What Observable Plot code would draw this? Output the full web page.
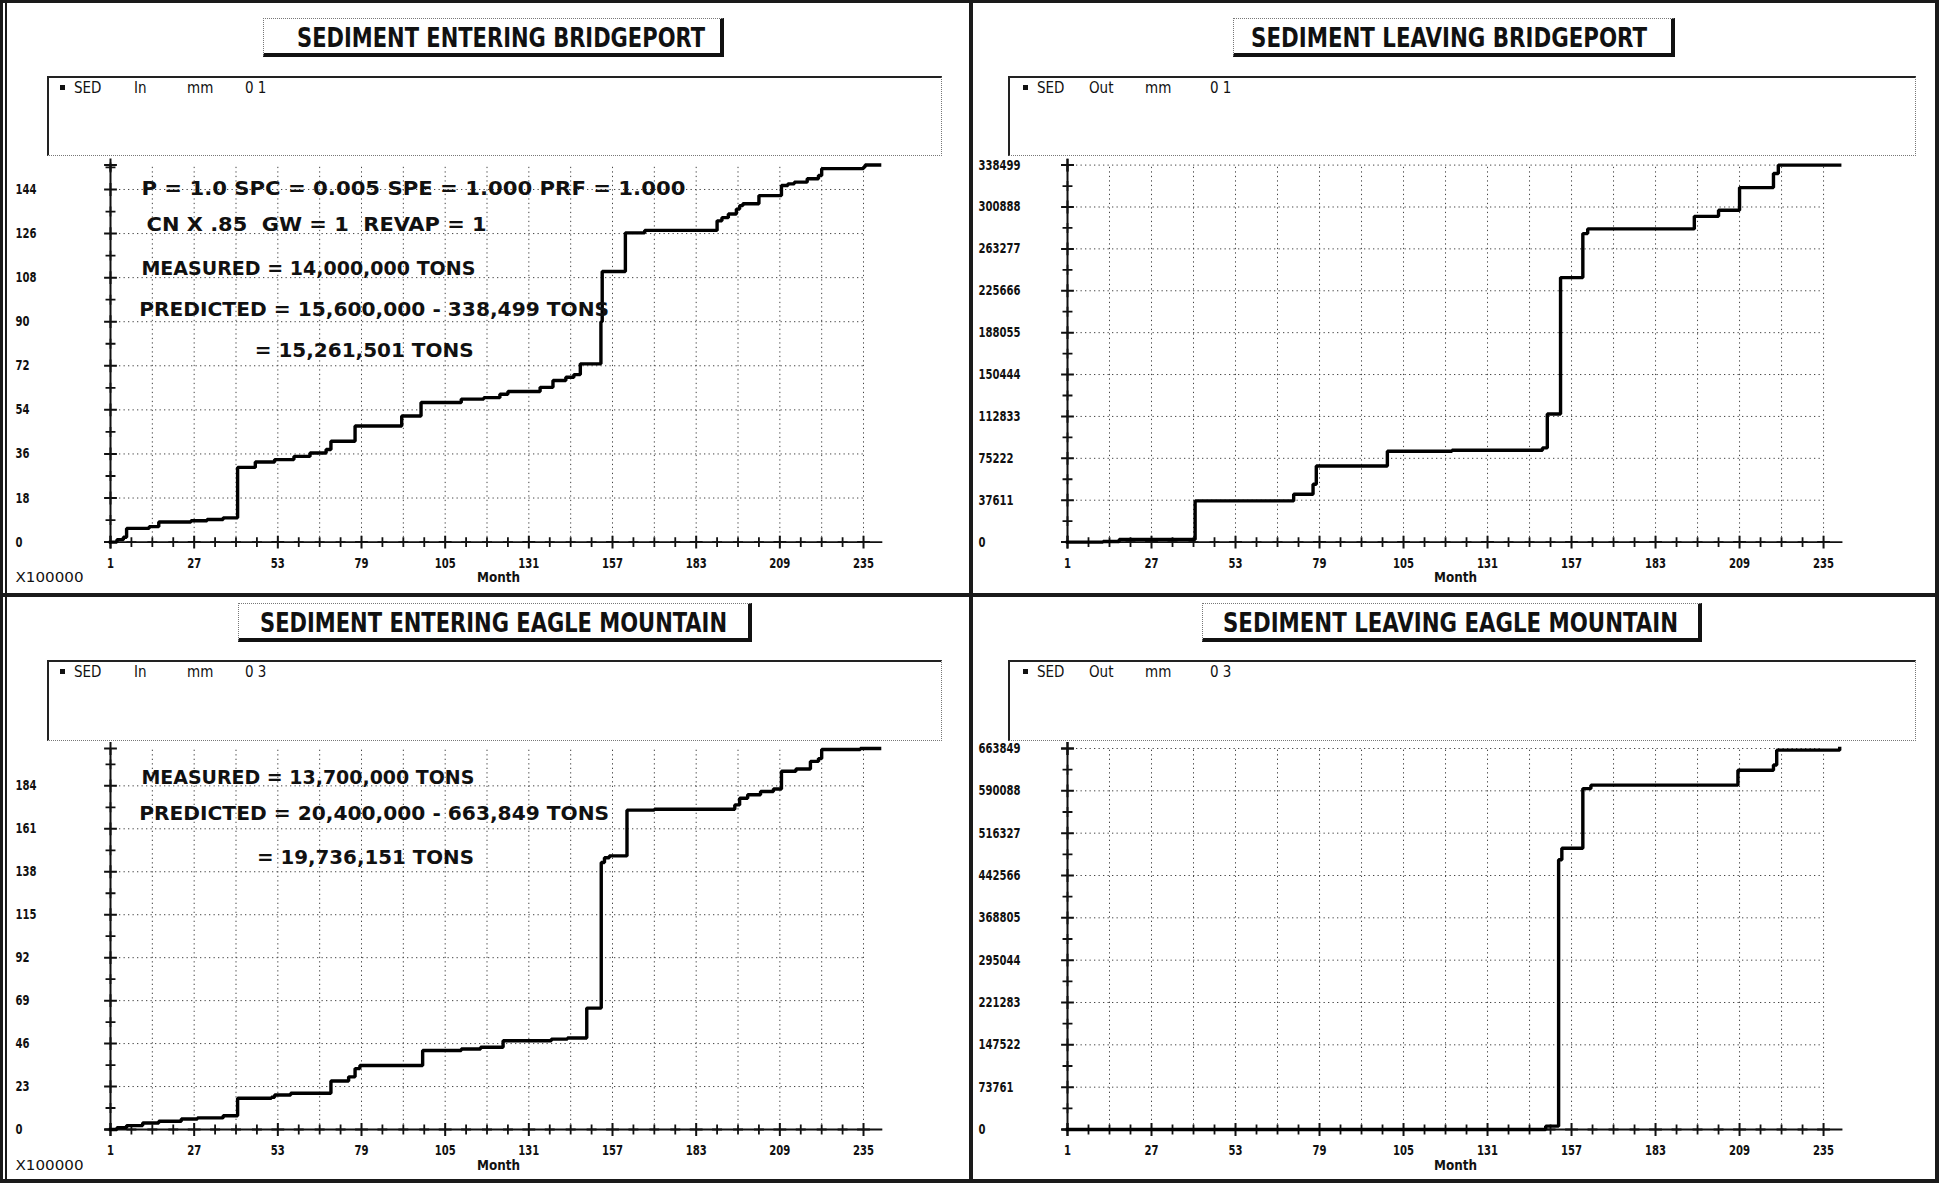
<!DOCTYPE html>
<html>
<head>
<meta charset="utf-8">
<script src="https://cdn.jsdelivr.net/npm/d3@7"></script>
<script src="https://cdn.jsdelivr.net/npm/@observablehq/plot@0.6"></script>
<style>
html,body{margin:0;padding:0;background:#fff;}
#fig{position:relative;width:1939px;height:1183px;overflow:hidden;background:#fff;font-family:"DejaVu Sans Condensed","DejaVu Sans",sans-serif;font-stretch:condensed;color:#111;}
.rule{position:absolute;background:#1a1a1a;}
.titlebox{position:absolute;box-sizing:border-box;border-top:1px dotted #777;border-left:1px dotted #777;border-right:4px solid #111;border-bottom:4px solid #111;background:#fff;}
.legendbox{position:absolute;box-sizing:border-box;border-top:2px solid #222;border-left:2px solid #222;border-right:1px dotted #777;border-bottom:1px dotted #777;}
.legendbox span{position:absolute;top:1px;font-size:15px;line-height:18px;white-space:pre;}
.legendbox .sq{position:absolute;top:7px;width:5px;height:5px;background:#111;}
.panel{position:absolute;}
</style>
</head>
<body>
<div id="fig"></div>
<script>
// ---------------- data ----------------
// x axis tick labels (month)
const xTickLabels = [1, 27, 53, 79, 105, 131, 157, 183, 209, 235];

// y tick labels per panel
const yTicksEnterBridgeport = [0, 18, 36, 54, 72, 90, 108, 126, 144];
const yTicksLeaveBridgeport = [0, 37611, 75222, 112833, 150444, 188055, 225666, 263277, 300888, 338499];
const yTicksEnterEagle = [0, 23, 46, 69, 92, 115, 138, 161, 184];
const yTicksLeaveEagle = [0, 73761, 147522, 221283, 295044, 368805, 442566, 516327, 590088, 663849];

// cumulative sediment, [month, value]  (entering: x100000 tons, leaving: tons)
const enterBridgeport = [[1,0],[3,1],[5,2],[6,5.6],[13,6.3],[16,8.2],[26,8.7],[31,9.2],[36,9.9],[40.5,30.5],[46,32.7],[52,33.7],[58,35],[63,36.4],[68,37.8],[69.5,41.2],[77,47.4],[91.5,51.5],[97.5,57],[110,58.4],[117,59],[122,60.4],[124.5,61.5],[134.5,63.2],[138.5,66],[142.5,67.3],[145,68.4],[147,72.8],[153.4,90],[153.8,110.5],[161,126.3],[167,127.3],[189.5,131.2],[191,132.5],[193,134],[195.5,136],[196.5,137.4],[197.5,138.2],[202.5,141.5],[209.5,145.6],[211.5,146.3],[213.5,147],[217.5,148.4],[221,149.7],[222,152.5],[235,153.2],[235.5,154],[240,154]];
const leaveBridgeport = [[1,0],[12,600],[17,2400],[40.5,37000],[71,43000],[77,52000],[78,68300],[100,81600],[120,82500],[148,84600],[149.5,115000],[153.6,237500],[160.5,277000],[162,281200],[195,292500],[202.5,297900],[209,318300],[219.5,331000],[221,338499],[240,338499]];
const enterEagle = [[1,0],[3,1],[6,2.1],[11,3.5],[16,4.4],[23,5.6],[28,6.2],[36,7.4],[40.5,16.7],[51,17.3],[52,18.5],[57,19.4],[69.5,26],[75,28.2],[77,32.6],[78.5,34.3],[98,42.3],[110,43.1],[116,44],[123,47.5],[138,48.4],[143,49],[149,65],[153.5,143],[154.5,145.5],[156,146.5],[161.5,171],[170,171.5],[195,173.8],[196.5,177.4],[199,179.2],[203,181],[207,182.3],[209.5,191.8],[214,193],[218.5,197.1],[221,198.6],[222,203.5],[234,204],[240,204]];
const leaveEagle = [[1,0],[149,5800],[153,470000],[154,490000],[160.5,594000],[163,600000],[208.5,626000],[219.5,635000],[220.5,661000],[240,663849]];

// panel titles, legend entries and text notes
const titles = ["SEDIMENT ENTERING BRIDGEPORT", "SEDIMENT LEAVING BRIDGEPORT", "SEDIMENT ENTERING EAGLE MOUNTAIN", "SEDIMENT LEAVING EAGLE MOUNTAIN"];
const legendEntries = [["SED", "In", "mm", "0 1"], ["SED", "Out", "mm", "0 1"], ["SED", "In", "mm", "0 3"], ["SED", "Out", "mm", "0 3"]];
const notesBridgeport = [
  {label: "P = 1.0 SPC = 0.005 SPE = 1.000 PRF = 1.000", month: 10.6, value: 144.2},
  {label: "CN X .85  GW = 1  REVAP = 1", month: 12.2, value: 129.7},
  {label: "MEASURED = 14,000,000 TONS", month: 10.6, value: 111.7},
  {label: "PREDICTED = 15,600,000 - 338,499 TONS", month: 9.9, value: 95},
  {label: "= 15,261,501 TONS", month: 45.8, value: 78.2}
];
const notesEagle = [
  {label: "MEASURED = 13,700,000 TONS", month: 10.6, value: 188.4},
  {label: "PREDICTED = 20,400,000 - 663,849 TONS", month: 9.9, value: 169},
  {label: "= 19,736,151 TONS", month: 46.5, value: 145.6}
];
const unitLabel = "X100000";
const xTitle = "Month";

// ---------------- layout ----------------
const monthMax = 240;
const textWidths = new Map([
  ["P = 1.0 SPC = 0.005 SPE = 1.000 PRF = 1.000", 544],
  ["CN X .85  GW = 1  REVAP = 1", 340],
  ["MEASURED = 14,000,000 TONS", 334],
  ["PREDICTED = 15,600,000 - 338,499 TONS", 470],
  ["= 15,261,501 TONS", 219],
  ["MEASURED = 13,700,000 TONS", 333],
  ["PREDICTED = 20,400,000 - 663,849 TONS", 470],
  ["= 19,736,151 TONS", 217],
  ["X100000", 68],
  ["Month", 43]
]);
const panels = [
  {panel: [0, 0, 969, 593], axisX: 110, ppm: 3.218, zeroY: 541.6, topY: 164.5, yMax: 154, labelX: 15,
   data: enterBridgeport, yTicks: yTicksEnterBridgeport, notes: notesBridgeport, unit: true,
   title: titles[0], titleBox: [263, 18, 461, 39], titleText: [297, 408],
   legend: legendEntries[0], legendBox: [47, 76, 895, 80], legendPos: [11, 25, 85, 138, 196]},
  {panel: [973, 0, 964, 593], axisX: 1067, ppm: 3.231, zeroY: 541.6, topY: 164.6, yMax: 338499, labelX: 978,
   data: leaveBridgeport, yTicks: yTicksLeaveBridgeport, notes: [], unit: false,
   title: titles[1], titleBox: [1233, 18, 442, 39], titleText: [1251, 396],
   legend: legendEntries[1], legendBox: [1008, 76, 908, 80], legendPos: [13, 27, 79, 135, 200]},
  {panel: [0, 597, 969, 584], axisX: 110, ppm: 3.218, zeroY: 1129, topY: 748, yMax: 204, labelX: 15,
   data: enterEagle, yTicks: yTicksEnterEagle, notes: notesEagle, unit: true,
   title: titles[2], titleBox: [238, 603, 514, 39], titleText: [260, 467],
   legend: legendEntries[2], legendBox: [47, 660, 895, 81], legendPos: [11, 25, 85, 138, 196]},
  {panel: [973, 597, 964, 584], axisX: 1067, ppm: 3.231, zeroY: 1129, topY: 748, yMax: 663849, labelX: 978,
   data: leaveEagle, yTicks: yTicksLeaveEagle, notes: [], unit: false,
   title: titles[3], titleBox: [1202, 603, 500, 39], titleText: [1223, 455],
   legend: legendEntries[3], legendBox: [1008, 660, 908, 81], legendPos: [13, 27, 79, 135, 200]}
];

const fig = document.getElementById("fig");
const FONT = '"DejaVu Sans Condensed","DejaVu Sans",sans-serif';

function addRule(x, y, w, h) {
  const d = document.createElement("div");
  d.className = "rule";
  Object.assign(d.style, {left: x + "px", top: y + "px", width: w + "px", height: h + "px"});
  fig.appendChild(d);
}
// outer frame and dividers
addRule(0, 0, 1939, 3);
addRule(0, 0, 3, 1183);
addRule(5, 0, 2, 1183);
addRule(1935, 0, 4, 1183);
addRule(0, 1179, 1939, 4);
addRule(969, 0, 4, 1183);
addRule(0, 593, 1939, 4);

const xGrid = d3.range(14, 236, 13);
const xMinor = d3.range(1, 236, 6.5).filter(v => !xTickLabels.includes(v));

panels.forEach(p => {
  // title box
  const tb = document.createElement("div");
  tb.className = "titlebox";
  const [bx, by, bw, bh] = p.titleBox;
  Object.assign(tb.style, {left: bx + "px", top: by + "px", width: bw + "px", height: bh + "px"});
  tb.innerHTML = `<svg width="${bw}" height="${bh}" style="position:absolute;left:-1px;top:-1px;overflow:visible">
    <text x="${p.titleText[0] - bx}" y="29" font-family='${FONT}' font-weight="bold" font-size="26" textLength="${p.titleText[1]}" lengthAdjust="spacingAndGlyphs" fill="#111">${p.title}</text></svg>`;
  fig.appendChild(tb);

  // legend box
  const lb = document.createElement("div");
  lb.className = "legendbox";
  const [lx, ly, lw, lh] = p.legendBox;
  Object.assign(lb.style, {left: lx + "px", top: ly + "px", width: lw + "px", height: lh + "px"});
  const sq = document.createElement("div");
  sq.className = "sq";
  sq.style.left = p.legendPos[0] + "px";
  lb.appendChild(sq);
  p.legend.forEach((s, i) => {
    const sp = document.createElement("span");
    sp.textContent = s;
    sp.style.left = p.legendPos[i + 1] + "px";
    lb.appendChild(sp);
  });
  fig.appendChild(lb);

  // the chart
  const [px, py, pw, ph] = p.panel;
  const mL = p.axisX - px;
  const xEnd = p.axisX + (monthMax - 1) * p.ppm;
  const mR = px + pw - xEnd;
  const mT = p.topY - py;
  const mB = py + ph - p.zeroY;
  const step = p.yTicks[1] - p.yTicks[0];
  const yMinor = p.yTicks.map(v => v + step / 2).filter(v => v < p.yMax);
  const frameCenter = (p.axisX + xEnd) / 2;
  const monthCenter = p.axisX + 388;
  const grid = {stroke: "#444", strokeWidth: 1, strokeDasharray: "1.3,3.2"};
  const ink = "#111";

  const marks = [
    Plot.ruleX(xGrid, {x: d => d, y1: 0, y2: p.yMax, ...grid}),
    Plot.ruleY(p.yTicks.filter(v => v > 0), {y: d => d, x1: 1, x2: 235, ...grid}),
    Plot.ruleY([0], {x1: -0.5, x2: monthMax + 1, stroke: ink, strokeWidth: 1.8}),
    Plot.ruleX([1], {y1: 0, y2: p.yMax, stroke: ink, strokeWidth: 2}),
    Plot.dot(xTickLabels, {x: d => d, y: 0, symbol: "plus", r: 4.2, stroke: ink, strokeWidth: 2}),
    Plot.dot(xMinor, {x: d => d, y: 0, symbol: "plus", r: 3.3, stroke: ink, strokeWidth: 1.8}),
    Plot.dot(p.yTicks.concat([p.yMax]), {x: 1, y: d => d, symbol: "plus", r: 4.2, stroke: ink, strokeWidth: 2}),
    Plot.dot(yMinor, {x: 1, y: d => d, symbol: "plus", r: 3.3, stroke: ink, strokeWidth: 1.8}),
    Plot.line(p.data, {x: d => d[0], y: d => d[1], curve: "step-after", stroke: "#000", strokeWidth: 3.4, strokeLinejoin: "miter", strokeLinecap: "square"}),
    Plot.text(p.yTicks, {x: 1, y: d => d, text: d => String(d), textAnchor: "start", dx: p.labelX - p.axisX, fontSize: 14, fontWeight: "bold", fill: ink}),
    Plot.text(xTickLabels, {x: d => d, y: 0, dy: 21, text: d => String(d), fontSize: 14, fontWeight: "bold", fill: ink}),
    Plot.text([xTitle], {frameAnchor: "bottom", text: d => d, dx: monthCenter - frameCenter, dy: 40, fontSize: 14, fontWeight: "bold", fill: ink}),
    Plot.text(p.notes, {x: "month", y: "value", text: "label", textAnchor: "start", fontSize: 19, fontWeight: "bold", fill: ink})
  ];
  if (p.unit) {
    marks.push(Plot.text([unitLabel], {frameAnchor: "bottom-left", text: d => d, textAnchor: "start", dx: p.labelX - p.axisX, dy: 40, fontSize: 14, fill: ink}));
  }

  const chart = Plot.plot({
    width: pw, height: ph,
    marginLeft: mL, marginRight: mR, marginTop: mT, marginBottom: mB,
    x: {domain: [1, monthMax], axis: null},
    y: {domain: [0, p.yMax], axis: null},
    style: {background: "transparent", overflow: "visible", fontFamily: FONT},
    marks
  });
  const holder = document.createElement("div");
  holder.className = "panel";
  Object.assign(holder.style, {left: px + "px", top: py + "px", width: pw + "px", height: ph + "px"});
  holder.appendChild(chart);
  fig.appendChild(holder);
});

// fit text widths to the reference
fig.querySelectorAll(".panel text").forEach(t => {
  const s = t.textContent;
  let w = textWidths.get(s);
  if (w == null && /^\d+$/.test(s)) w = s.length * 7;
  if (w != null) {
    t.setAttribute("textLength", w);
    t.setAttribute("lengthAdjust", "spacingAndGlyphs");
  }
});
</script>
</body>
</html>
